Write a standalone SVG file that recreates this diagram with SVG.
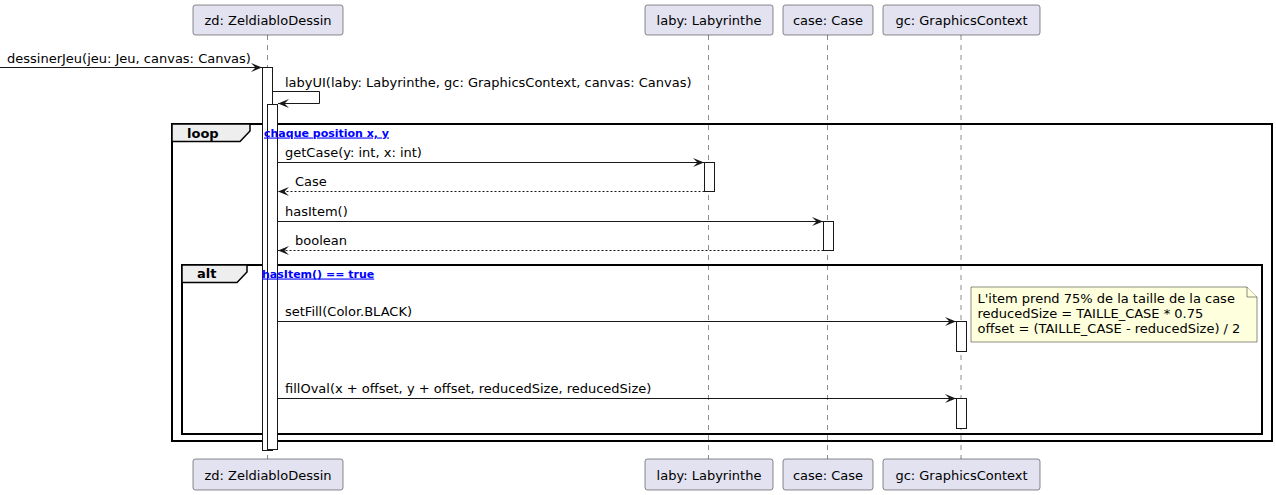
<svg xmlns="http://www.w3.org/2000/svg" width="1276" height="495" viewBox="0 0 1276 495">
<defs>
<style>
text{font-family:"DejaVu Sans","Liberation Sans",sans-serif;font-size:13px;fill:#000000}
.pbox{fill:#E2E2F0;stroke:#181818;stroke-width:0.5}
.life{stroke:#181818;stroke-width:0.5;stroke-dasharray:5,5;fill:none}
.act{fill:#FFFFFF;stroke:#181818;stroke-width:1}
.frame{fill:none;stroke:#000000;stroke-width:2}
.tab{fill:#EEEEEE;stroke:#000000;stroke-width:1.5}
.kw{font-weight:bold}
.cond{font-weight:bold;font-size:11px;fill:#0000FF;text-decoration:underline}
.msg{stroke:#181818;stroke-width:1;fill:none;marker-end:url(#arr)}
.ret{stroke:#181818;stroke-width:1;fill:none;stroke-dasharray:2,2;marker-end:url(#arr)}
.note{fill:#FEFFDD;stroke:#181818;stroke-width:0.5}
</style>
<marker id="arr" viewBox="0 0 11 9" refX="11" refY="4.5" markerWidth="11" markerHeight="9" orient="auto" markerUnits="userSpaceOnUse">
<path d="M0,0 L11,4.5 L0,9 L4.5,4.5 Z" fill="#181818"/>
</marker>
</defs>
<rect width="1276" height="495" fill="#FFFFFF"/>

<g id="lifelines">
<line class="life" x1="267.5" y1="35" x2="267.5" y2="459"/>
<line class="life" x1="708.5" y1="35" x2="708.5" y2="459"/>
<line class="life" x1="827.5" y1="35" x2="827.5" y2="459"/>
<line class="life" x1="961" y1="35" x2="961" y2="459"/>
</g>

<g id="frame-loop">
<rect class="frame" x="172" y="124" width="1100" height="317"/>
<path class="tab" d="M172,124 L250,124 L250,131 L240,141.5 L172,141.5 Z"/>
<text class="kw" x="187" y="138">loop</text>
</g>
<g id="frame-alt">
<rect class="frame" x="182" y="265" width="1080" height="169"/>
<path class="tab" d="M182,265 L247,265 L247,272 L237,282.5 L182,282.5 Z"/>
<text class="kw" x="197" y="278">alt</text>
</g>

<g id="zd">
<rect class="pbox" x="193" y="5" width="150" height="30" rx="2.5"/>
<text x="268" y="25" text-anchor="middle">zd: ZeldiabloDessin</text>
<rect class="pbox" x="193" y="459" width="150" height="31" rx="2.5"/>
<text x="268" y="479.5" text-anchor="middle">zd: ZeldiabloDessin</text>
<rect class="act" x="262.5" y="67.5" width="10" height="383"/>
<rect class="act" x="267.5" y="104.5" width="10" height="345"/>
</g>
<g id="laby">
<rect class="pbox" x="645" y="5" width="128" height="30" rx="2.5"/>
<text x="709" y="25" text-anchor="middle">laby: Labyrinthe</text>
<rect class="pbox" x="645" y="459" width="128" height="31" rx="2.5"/>
<text x="709" y="479.5" text-anchor="middle">laby: Labyrinthe</text>
<rect class="act" x="704.5" y="162.5" width="10" height="29"/>
</g>
<g id="case">
<rect class="pbox" x="783" y="5" width="90" height="30" rx="2.5"/>
<text x="828" y="25" text-anchor="middle">case: Case</text>
<rect class="pbox" x="783" y="459" width="90" height="31" rx="2.5"/>
<text x="828" y="479.5" text-anchor="middle">case: Case</text>
<rect class="act" x="823.5" y="221.5" width="10" height="29"/>
</g>
<g id="gc">
<rect class="pbox" x="883" y="5" width="157" height="30" rx="2.5"/>
<text x="961.5" y="25" text-anchor="middle">gc: GraphicsContext</text>
<rect class="pbox" x="883" y="459" width="157" height="31" rx="2.5"/>
<text x="961.5" y="479.5" text-anchor="middle">gc: GraphicsContext</text>
<rect class="act" x="956.5" y="321.5" width="10" height="30"/>
<rect class="act" x="956.5" y="398.5" width="10" height="30"/>
</g>

<g id="note">
<path class="note" d="M971,287 L971,342 L1257,342 L1257,297 L1247,287 Z"/>
<path class="note" d="M1247,287 L1247,297 L1257,297"/>
<text x="977.5" y="302.5">L'item prend 75% de la taille de la case</text>
<text x="977.5" y="317.5">reducedSize = TAILLE_CASE * 0.75</text>
<text x="977.5" y="332.5">offset = (TAILLE_CASE - reducedSize) / 2</text>
</g>

<g id="connectors">
<line class="msg" x1="0" y1="67.5" x2="262" y2="67.5"/>
<text x="7" y="62.5">dessinerJeu(jeu: Jeu, canvas: Canvas)</text>
<polyline class="msg" points="272.5,91.5 319.5,91.5 319.5,103.5 278,103.5"/>
<text x="285" y="86.5">labyUI(laby: Labyrinthe, gc: GraphicsContext, canvas: Canvas)</text>
<line class="msg" x1="277.5" y1="162.5" x2="704" y2="162.5"/>
<text x="285" y="157">getCase(y: int, x: int)</text>
<line class="ret" x1="704.5" y1="191.5" x2="278" y2="191.5"/>
<text x="295" y="186">Case</text>
<line class="msg" x1="277.5" y1="221.5" x2="823" y2="221.5"/>
<text x="285" y="216">hasItem()</text>
<line class="ret" x1="823.5" y1="250.5" x2="278" y2="250.5"/>
<text x="295" y="245">boolean</text>
<line class="msg" x1="277.5" y1="321.5" x2="956" y2="321.5"/>
<text x="285" y="316">setFill(Color.BLACK)</text>
<line class="msg" x1="277.5" y1="398.5" x2="956" y2="398.5"/>
<text x="285" y="393">fillOval(x + offset, y + offset, reducedSize, reducedSize)</text>
</g>

<g id="conditions">
<text class="cond" x="264" y="136.5">chaque position x, y</text>
<text class="cond" x="262" y="277.5">hasItem() == true</text>
</g>
</svg>
